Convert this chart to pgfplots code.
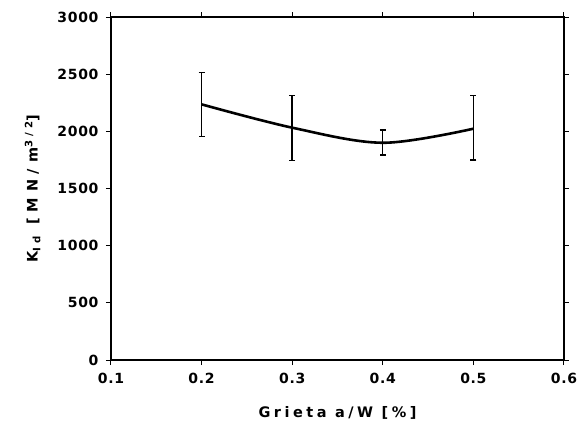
\documentclass[border=0pt]{standalone}
\usepackage{fontspec}
\setmainfont{DejaVu Sans}
\newfontfamily\labelfont[LetterSpace=24]{DejaVu Sans Bold}
\newfontfamily\ylabelfont[LetterSpace=40]{DejaVu Sans Bold}
\newfontfamily\tickfont[LetterSpace=5]{DejaVu Sans Bold}
\usepackage{pgfplots}
\pgfplotsset{compat=1.18}
\begin{document}
\begin{tikzpicture}
\begin{axis}[
    scale only axis,
    width=453pt,
    height=343pt,
    xmin=0.1, xmax=0.6,
    ymin=0, ymax=3000,
    xtick={0.1,0.2,0.3,0.4,0.5,0.6},
    ytick={0,500,1000,1500,2000,2500,3000},
    xticklabels={0.1,0.2,0.3,0.4,0.5,0.6},
    /pgf/number format/assume math mode=true,
    tick align=outside,
    major tick length=5pt,
    tick style={line width=1pt, black},
    axis line style={line width=1.4pt},
    ticklabel style={font=\tickfont\fontsize{14}{16}\selectfont},
    xticklabel style={yshift=-5pt},
    yticklabel style={xshift=-4pt},
    scaled y ticks=false,
    yticklabel={\pgfmathprintnumber[fixed,precision=0,1000 sep={}]{\tick}},
    xlabel={Grieta a/W [\%]},
    ylabel={K\textsubscript{Id}\ [MN/m\textsuperscript{3/2}]},
    xlabel style={font=\labelfont\fontsize{14.5}{16}\selectfont, yshift=-15pt},
    ylabel style={font=\ylabelfont\fontsize{14.5}{16}\selectfont, yshift=10pt},
]
% mean curve
\addplot[black, line width=2.6pt, smooth, tension=0.55] coordinates {
    (0.2,2236) (0.3,2032) (0.4,1900) (0.5,2023)};
% scatter of the measurements
\addplot[draw=none, mark=none,
    error bars/.cd, y dir=both, y explicit,
    error bar style={line width=1.4pt},
    error mark options={rotate=90, mark size=3pt, line width=1.4pt}]
    coordinates {
    (0.2,2234) +- (0,278)
    (0.3,2029) +- (0,286)
    (0.4,1902) +- (0,110)
    (0.5,2032) +- (0,283)
    };
\end{axis}
\pgfresetboundingbox
\path (-111pt,-77pt) rectangle (468pt,360pt);
\end{tikzpicture}
\end{document}
